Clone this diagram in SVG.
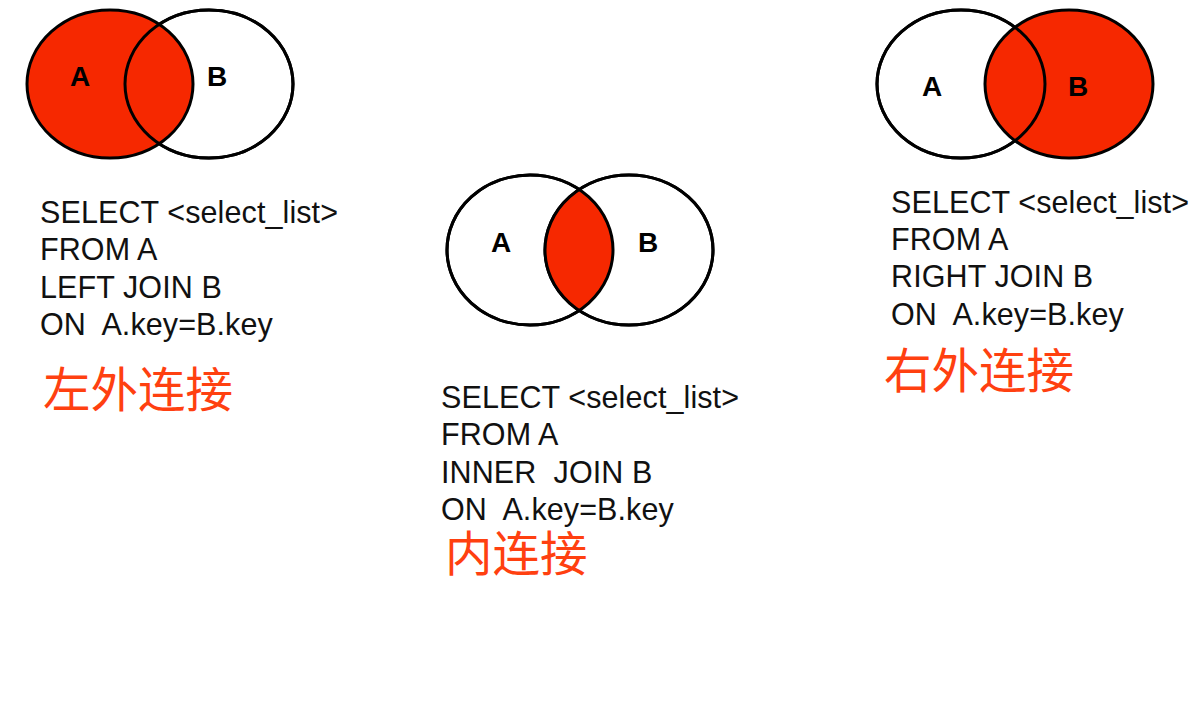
<svg xmlns="http://www.w3.org/2000/svg" width="1194" height="722" viewBox="0 0 1194 722">
<style>
.ol{fill:none;stroke:#000;stroke-width:3}
.wf{fill:#fff;stroke:#000;stroke-width:3}
.rf{fill:#f62800;stroke:#000;stroke-width:3}
.lbl{font-family:"Liberation Sans",Arial,sans-serif;font-weight:bold;font-size:28px;fill:#000;text-anchor:middle}
.sql{font-family:"Liberation Sans",Arial,sans-serif;font-size:30.5px;fill:#111;white-space:pre;letter-spacing:0.1px}
.cn{font-family:"Liberation Sans","Noto Sans CJK SC",sans-serif;font-size:47.5px;fill:#ff4010}
</style>
<defs>
<clipPath id="clipMidA"><ellipse cx="530" cy="250" rx="83" ry="75"/></clipPath>
</defs>
<rect width="1194" height="722" fill="#fff"/>
<g id="left-venn">
<ellipse class="wf" cx="209" cy="84" rx="84" ry="74"/>
<ellipse class="rf" cx="110" cy="84" rx="83" ry="74"/>
<ellipse class="ol" cx="209" cy="84" rx="84" ry="74"/>
<text class="lbl" x="80" y="86">A</text>
<text class="lbl" x="217" y="86">B</text>
</g>
<g id="inner-venn">
<ellipse class="wf" cx="530" cy="250" rx="83" ry="75"/>
<ellipse class="wf" cx="629" cy="250" rx="84" ry="75"/>
<ellipse cx="629" cy="250" rx="84" ry="75" fill="#f62800" clip-path="url(#clipMidA)"/>
<ellipse class="ol" cx="530" cy="250" rx="83" ry="75"/>
<ellipse class="ol" cx="629" cy="250" rx="84" ry="75"/>
<text class="lbl" x="501" y="252">A</text>
<text class="lbl" x="648" y="252">B</text>
</g>
<g id="right-venn">
<ellipse class="wf" cx="961" cy="84" rx="84" ry="74"/>
<ellipse class="rf" cx="1069" cy="84" rx="84" ry="74"/>
<ellipse class="ol" cx="961" cy="84" rx="84" ry="74"/>
<text class="lbl" x="932" y="96">A</text>
<text class="lbl" x="1078" y="96">B</text>
</g>
<g id="left-sql">
<text class="sql" x="40" y="223">SELECT &lt;select_list&gt;</text>
<text class="sql" x="40" y="260">FROM A</text>
<text class="sql" x="40" y="298">LEFT JOIN B</text>
<text class="sql" x="40" y="335">ON  A.key=B.key</text>
<text class="cn" x="43" y="407">左外连接</text>
</g>
<g id="inner-sql">
<text class="sql" x="441" y="408">SELECT &lt;select_list&gt;</text>
<text class="sql" x="441" y="445">FROM A</text>
<text class="sql" x="441" y="483">INNER  JOIN B</text>
<text class="sql" x="441" y="520">ON  A.key=B.key</text>
<text class="cn" x="445" y="571">内连接</text>
</g>
<g id="right-sql">
<text class="sql" x="891" y="213">SELECT &lt;select_list&gt;</text>
<text class="sql" x="891" y="250">FROM A</text>
<text class="sql" x="891" y="287">RIGHT JOIN B</text>
<text class="sql" x="891" y="325">ON  A.key=B.key</text>
<text class="cn" x="884" y="388">右外连接</text>
</g>
<g id="connectors"></g>
</svg>
